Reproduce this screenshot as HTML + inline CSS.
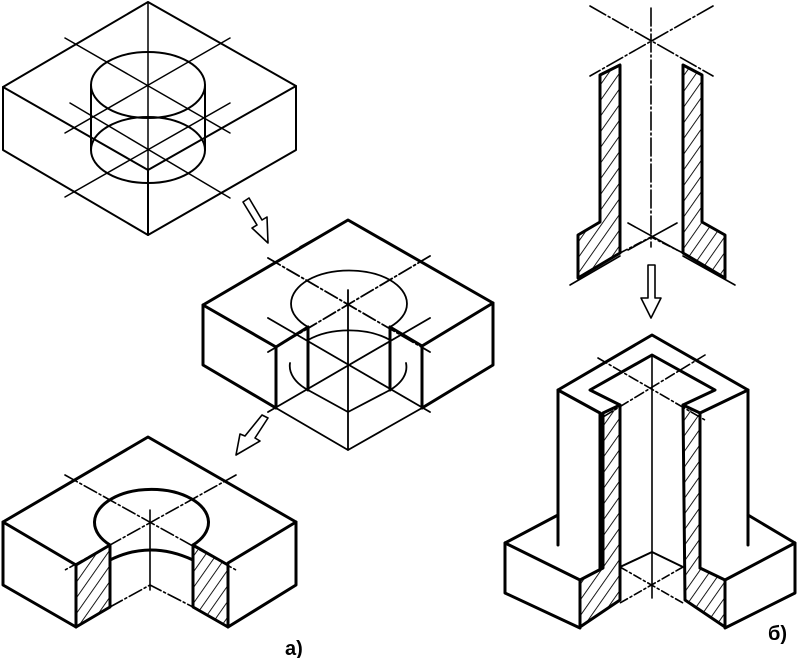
<!DOCTYPE html>
<html><head><meta charset="utf-8"><style>
html,body{margin:0;padding:0;background:#fff}
svg{display:block}
text{font-family:"Liberation Sans",sans-serif;font-weight:bold;font-size:20px}
</style></head><body>
<svg width="800" height="658" viewBox="0 0 800 658" xmlns="http://www.w3.org/2000/svg">
<defs>
<pattern id="h" width="9" height="9" patternUnits="userSpaceOnUse" patternTransform="rotate(35)">
<rect width="9" height="9" fill="#fff"/><line x1="0" y1="0" x2="0" y2="9" stroke="#000" stroke-width="1.8"/>
</pattern>
</defs>
<g fill="none" stroke="#000" stroke-linejoin="round" stroke-linecap="round">
<!-- top-left box -->
<g stroke-width="2">
<polygon points="148,2 296,86 148,170 3,87"/>
<polyline points="3,87 3,150 148,235 296,150 296,86"/>
<line x1="148" y1="170" x2="148" y2="235"/>
<ellipse cx="148" cy="85" rx="57" ry="33"/>
<ellipse cx="148" cy="150" rx="57" ry="33"/>
<line x1="91" y1="85" x2="91" y2="150"/><line x1="205" y1="85" x2="205" y2="150"/>
<line x1="148" y1="2" x2="148" y2="235" stroke-width="1.5"/>
<line x1="65" y1="38" x2="230" y2="133" stroke-width="1.5"/>
<line x1="230" y1="38" x2="65" y2="133" stroke-width="1.5"/>
<line x1="70" y1="103" x2="230" y2="198" stroke-width="1.5"/>
<line x1="230" y1="103" x2="65" y2="197" stroke-width="1.5"/>
</g>
<!-- arrows -->
<g stroke-width="1.6">
<polygon points="243,202 249,198 262,220 267,217 268,243 252,228 257,225"/>
<polygon points="262,415 268,418 255,438 260,441 236,455 240,434 245,436" />
<polygon points="648,265 655,265 655,298 661,298 651,318 641,298 648,298"/>
<line x1="300" y1="247" x2="320" y2="236"/>
</g>
<!-- middle box -->
<g stroke-width="3">
<polyline points="276,347 203,305 348,220 493,303 422,346"/>
<polyline points="203,305 203,365 276,408"/>
<polyline points="493,303 493,365 422,408"/>
<line x1="276" y1="347" x2="276" y2="408"/>
<line x1="422" y1="346" x2="422" y2="408"/>
<line x1="308" y1="327" x2="308" y2="390"/>
<line x1="390" y1="327" x2="390" y2="390"/>
<line x1="276" y1="347" x2="308" y2="327"/><line x1="422" y1="346" x2="390" y2="327"/>
</g>
<g stroke-width="1.8">
<path d="M308,327 A58,33 0 1 1 390,327"/>
<path d="M308,390 L348,412 L390,390"/>
<path d="M308,340 A58,33 0 0 1 390,340"/>
<path d="M290,363 A58,33 0 0 0 308,390 M390,390 A58,33 0 0 0 406,363"/>
<polyline points="276,408 348,450 422,408"/>
<line x1="348" y1="290" x2="348" y2="450"/>
<line x1="268" y1="258" x2="430" y2="352" stroke-dasharray="14,3,2,3"/>
<line x1="430" y1="256" x2="268" y2="352" stroke-dasharray="14,3,2,3"/>
<line x1="268" y1="318" x2="430" y2="412"/>
<line x1="430" y1="318" x2="268" y2="412"/>
</g>
<!-- bottom-left -->
<path d="M110,545 L76,565 L76,627 L110,607 Z" fill="url(#h)" stroke-width="3"/>
<path d="M193,545 L228,565 L228,627 L193,607 Z" fill="url(#h)" stroke-width="3"/>
<g stroke-width="3">
<polyline points="76,565 3,522 148,437 296,522 228,563"/>
<polyline points="3,522 3,585 76,627"/>
<polyline points="296,522 296,585 228,627"/>
<path d="M110,545 A57,33 0 1 1 193,545"/>
<path d="M110,560 Q150,540 193,560"/>
</g>
<g stroke-width="1.6">
<polyline points="110,607 150,585 193,607" stroke-dasharray="14,3,2,3"/>
<line x1="150" y1="510" x2="150" y2="590"/>
<line x1="65" y1="475" x2="236" y2="570" stroke-dasharray="14,3,2,3"/>
<line x1="236" y1="475" x2="65" y2="570" stroke-dasharray="14,3,2,3"/>
</g>
<text x="285" y="655" stroke="none" fill="#000">а)</text>
<!-- top right -->
<path d="M600,75 L620,65 L620,253 L578,278 L578,235 L600,222 Z" fill="url(#h)" stroke-width="3"/>
<path d="M683,65 L702,75 L702,222 L725,235 L725,278 L683,253 Z" fill="url(#h)" stroke-width="3"/>
<g stroke-width="1.6">
<line x1="651" y1="8" x2="651" y2="247" stroke-dasharray="18,3,2,3"/>
<line x1="590" y1="6" x2="713" y2="76" stroke-dasharray="18,3,2,3"/>
<line x1="713" y1="6" x2="590" y2="76" stroke-dasharray="18,3,2,3"/>
<line x1="570" y1="285" x2="620" y2="256"/>
<line x1="683" y1="256" x2="735" y2="285"/>
<polyline points="620,253 651,237 683,253" stroke-dasharray="8,3,2,3"/>
<line x1="628" y1="223" x2="677" y2="250"/>
<line x1="677" y1="223" x2="628" y2="250"/>
</g>
<!-- bottom right -->
<path d="M603,413 L620,405 L620,600 L580,627 L580,580 L603,568 Z" fill="url(#h)" stroke-width="3"/>
<path d="M683,405 L700,413 L700,568 L725,580 L725,627 L685,600 Z" fill="url(#h)" stroke-width="3"/>
<g stroke-width="3">
<polyline points="600,413 558,390 652,335 748,390 700,413"/>
<polyline points="620,405 590,390 652,355 715,390 683,405"/>
<line x1="558" y1="390" x2="558" y2="545"/>
<line x1="748" y1="390" x2="748" y2="545"/>
<line x1="600" y1="413" x2="600" y2="568"/>
<line x1="700" y1="413" x2="700" y2="568"/>
<polyline points="558,515 505,543 505,593 580,628"/>
<line x1="505" y1="543" x2="580" y2="580"/>
<polyline points="748,515 795,543 795,593 725,628"/>
<line x1="795" y1="543" x2="725" y2="580"/>
<polyline points="620,567 652,552 683,567" stroke-width="2"/>
</g>
<g stroke-width="1.6">
<line x1="652" y1="355" x2="652" y2="598"/>
<line x1="598" y1="358" x2="705" y2="420" stroke-dasharray="10,3,2,3"/>
<line x1="705" y1="355" x2="598" y2="420" stroke-dasharray="10,3,2,3"/>
<line x1="620" y1="567" x2="683" y2="603" stroke-dasharray="8,3,2,3"/>
<line x1="683" y1="567" x2="620" y2="603" stroke-dasharray="8,3,2,3"/>
</g>
<text x="768" y="640" stroke="none" fill="#000">б)</text>
</g>
</svg>
</body></html>
